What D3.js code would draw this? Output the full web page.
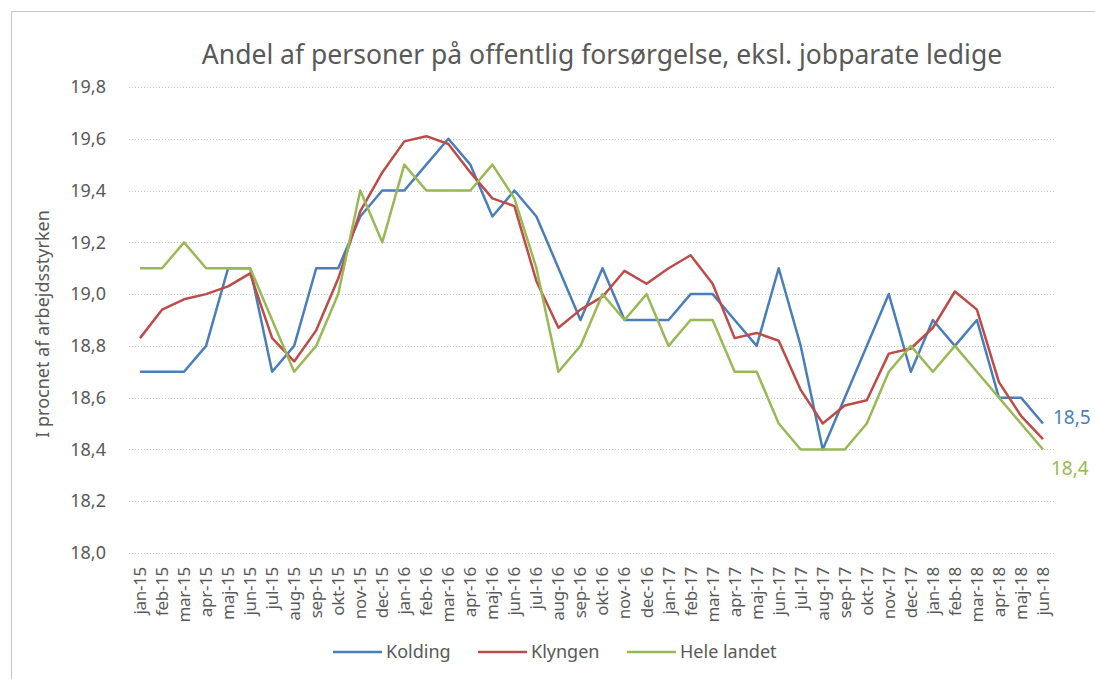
<!DOCTYPE html>
<html>
<head>
<meta charset="utf-8">
<script src="https://cdn.jsdelivr.net/npm/d3@7"></script>
<style>
  body { margin: 0; background: #fff; }
  text { font-family: "Noto Sans", "Open Sans", sans-serif; fill: #595959; }
</style>
</head>
<body>
<svg id="canvas"></svg>
<script>
const months = ['jan-15','feb-15','mar-15','apr-15','maj-15','jun-15','jul-15','aug-15','sep-15','okt-15','nov-15','dec-15',
  'jan-16','feb-16','mar-16','apr-16','maj-16','jun-16','jul-16','aug-16','sep-16','okt-16','nov-16','dec-16',
  'jan-17','feb-17','mar-17','apr-17','maj-17','jun-17','jul-17','aug-17','sep-17','okt-17','nov-17','dec-17',
  'jan-18','feb-18','mar-18','apr-18','maj-18','jun-18'];

const kolding = [18.7, 18.7, 18.7, 18.8, 19.1, 19.1, 18.7, 18.8, 19.1, 19.1, 19.3, 19.4,
  19.4, 19.5, 19.6, 19.5, 19.3, 19.4, 19.3, 19.1, 18.9, 19.1, 18.9, 18.9,
  18.9, 19.0, 19.0, 18.9, 18.8, 19.1, 18.8, 18.4, 18.6, 18.8, 19.0, 18.7,
  18.9, 18.8, 18.9, 18.6, 18.6, 18.5];

const klyngen = [18.83, 18.94, 18.98, 19.0, 19.03, 19.08, 18.83, 18.74, 18.86, 19.06, 19.32, 19.47,
  19.59, 19.61, 19.58, 19.47, 19.37, 19.34, 19.05, 18.87, 18.94, 18.99, 19.09, 19.04,
  19.1, 19.15, 19.04, 18.83, 18.85, 18.82, 18.63, 18.5, 18.57, 18.59, 18.77, 18.79,
  18.87, 19.01, 18.94, 18.66, 18.53, 18.44];

const heleLandet = [19.1, 19.1, 19.2, 19.1, 19.1, 19.1, 18.9, 18.7, 18.8, 19.0, 19.4, 19.2,
  19.5, 19.4, 19.4, 19.4, 19.5, 19.37, 19.1, 18.7, 18.8, 19.0, 18.9, 19.0,
  18.8, 18.9, 18.9, 18.7, 18.7, 18.5, 18.4, 18.4, 18.4, 18.5, 18.7, 18.8,
  18.7, 18.8, 18.7, 18.6, 18.5, 18.4];

const yTicks = [18.0, 18.2, 18.4, 18.6, 18.8, 19.0, 19.2, 19.4, 19.6, 19.8];

const series = [
  { name: 'Kolding', values: kolding, color: '#4a7ebb' },
  { name: 'Klyngen', values: klyngen, color: '#be4b48' },
  { name: 'Hele landet', values: heleLandet, color: '#98b954' }
];

const width = 1095;
const height = 679;
const margin = { top: 87, right: 40, bottom: 126, left: 129 };

const svg = d3.select('#canvas').attr('width', width).attr('height', height);

// chart border
svg.append('rect')
  .attr('x', 11.5).attr('y', 11.5)
  .attr('width', width).attr('height', height)
  .attr('fill', 'none').attr('stroke', '#c8c8c8');

const x = d3.scaleBand()
  .domain(months)
  .range([margin.left, width - margin.right - 1]);

const y = d3.scaleLinear()
  .domain([18.0, 19.8])
  .range([height - margin.bottom, margin.top]);

const fmt = d => d3.format('.1f')(d).replace('.', ',');

// gridlines
svg.append('g')
  .selectAll('line')
  .data(yTicks)
  .join('line')
  .attr('x1', margin.left)
  .attr('x2', width - margin.right)
  .attr('y1', d => Math.round(y(d)) + 0.5)
  .attr('y2', d => Math.round(y(d)) + 0.5)
  .attr('stroke', '#c8c8c8')
  .attr('stroke-dasharray', '1,2');

// y axis
const yAxis = svg.append('g')
  .attr('transform', `translate(${margin.left},0)`)
  .call(d3.axisLeft(y).tickValues(yTicks).tickFormat(fmt).tickSize(0).tickPadding(23));
yAxis.select('.domain').remove();
yAxis.selectAll('text')
  .style('font-size', '18px')
  .attr('fill', '#595959');

// x axis
const xAxis = svg.append('g')
  .attr('transform', `translate(0,${height - margin.bottom})`)
  .call(d3.axisBottom(x).tickSize(0).tickPadding(0));
xAxis.select('.domain').remove();
xAxis.selectAll('text')
  .style('font-size', '17px')
  .style('letter-spacing', '-0.3px')
  .attr('fill', '#595959')
  .attr('transform', 'rotate(-90)')
  .attr('text-anchor', 'end')
  .attr('dy', '0.35em')
  .attr('x', -14)
  .attr('y', 0);

// lines
const line = d3.line()
  .x((d, i) => x(months[i]) + x.bandwidth() / 2)
  .y(d => y(d));

svg.append('g')
  .selectAll('path')
  .data(series)
  .join('path')
  .attr('d', d => line(d.values))
  .attr('fill', 'none')
  .attr('stroke', d => d.color)
  .attr('stroke-width', 2.5)
  .attr('stroke-linejoin', 'round');

// end labels
const last = months.length - 1;
const endX = x(months[last]) + x.bandwidth() / 2;
svg.append('text')
  .attr('x', endX + 10)
  .attr('y', y(kolding[last]) - 6)
  .attr('dy', '0.35em')
  .style('font-size', '19px')
  .style('fill', '#4a7ebb')
  .text(fmt(kolding[last]));
svg.append('text')
  .attr('x', endX + 8)
  .attr('y', y(heleLandet[last]) + 19)
  .attr('dy', '0.35em')
  .style('font-size', '19px')
  .style('fill', '#98b954')
  .text(fmt(heleLandet[last]));

// title
svg.append('text')
  .attr('x', 602)
  .attr('y', 64)
  .attr('text-anchor', 'middle')
  .style('font-size', '26.5px')
  .text('Andel af personer på offentlig forsørgelse, eksl. jobparate ledige');

// y axis title
svg.append('text')
  .attr('transform', `translate(43,${(margin.top + height - margin.bottom) / 2 + 4}) rotate(-90)`)
  .attr('text-anchor', 'middle')
  .attr('dy', '0.35em')
  .style('font-size', '18px')
  .text('I procnet af arbejdsstyrken');

// legend
const legendX = [333, 478, 627];
const legend = svg.append('g')
  .selectAll('g')
  .data(series)
  .join('g')
  .attr('transform', (d, i) => `translate(${legendX[i]},652)`);
legend.append('line')
  .attr('x1', 0).attr('x2', 49)
  .attr('stroke', d => d.color)
  .attr('stroke-width', 2.5);
legend.append('text')
  .attr('x', 53)
  .attr('dy', '0.35em')
  .style('font-size', '18px')
  .text(d => d.name);
</script>
</body>
</html>
